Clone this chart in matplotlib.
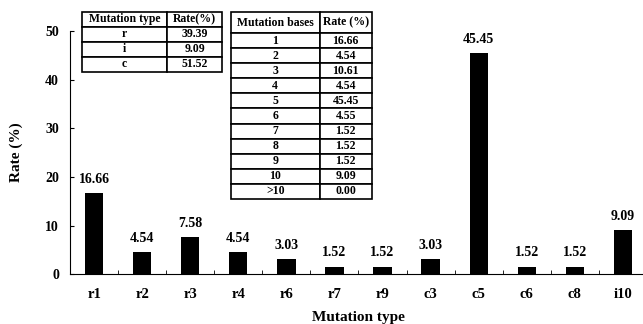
import matplotlib
matplotlib.use("Agg")
import matplotlib.pyplot as plt
import numpy as np

plt.rcParams["font.family"] = "Liberation Serif"
plt.rcParams["font.weight"] = "bold"

categories = ["r1", "r2", "r3", "r4", "r6", "r7", "r9", "c3", "c5", "c6", "c8", "i10"]
rates = [16.66, 4.54, 7.58, 4.54, 3.03, 1.52, 1.52, 3.03, 45.45, 1.52, 1.52, 9.09]

type_rows = [["r", "39.39"], ["i", "9.09"], ["c", "51.52"]]
type_header = ["Mutation type", "Rate(%)"]

bases_rows = [["1", "16.66"], ["2", "4.54"], ["3", "10.61"], ["4", "4.54"],
              ["5", "45.45"], ["6", "4.55"], ["7", "1.52"], ["8", "1.52"],
              ["9", "1.52"], ["10", "9.09"], [">10", "0.00"]]
bases_header = ["Mutation bases", "Rate (%)"]

fig = plt.figure(figsize=(6.43, 3.24), dpi=100)
ax = fig.add_axes([0.109, 0.154, 0.897, 0.75])

x = np.arange(len(categories))
ax.bar(x, rates, width=0.38, color="black")
for xi, v in zip(x, rates):
    ax.text(xi, v + 1.5, f"{v:.2f}", ha="center", va="bottom", fontsize=10, fontweight="bold")

ax.set_xlim(-0.5, len(categories) - 0.5)
ax.set_ylim(0, 50)
ax.set_yticks(range(0, 51, 10))
ax.set_xticks(x)
ax.set_xticklabels(categories)
ax.set_xticks(np.arange(-0.5, len(categories), 1), minor=True)
ax.tick_params(axis="x", which="major", length=0, pad=10, labelsize=10.5)
ax.tick_params(axis="x", which="minor", direction="in", length=3)
ax.tick_params(axis="y", direction="in", length=3, pad=8, labelsize=10)
for lab in ax.get_xticklabels() + ax.get_yticklabels():
    lab.set_fontweight("bold")
ax.spines["top"].set_visible(False)
ax.spines["right"].set_visible(False)
ax.set_ylabel("Rate (%)", fontsize=11, fontweight="bold", labelpad=16)
ax.set_xlabel("Mutation type", fontsize=11, fontweight="bold", labelpad=7)


def add_table(header, rows, bbox, col_w, header_scale):
    t = fig.add_axes([0, 0, 1, 1], facecolor="none")
    t.axis("off")
    tab = t.table(cellText=rows, colLabels=header, cellLoc="center",
                  colWidths=col_w, bbox=bbox)
    tab.auto_set_font_size(False)
    for (r, c), cell in tab.get_celld().items():
        cell.set_linewidth(1.2)
        cell.set_height(header_scale if r == 0 else 1.0)
        cell.get_text().set_fontsize(8.5)
        cell.get_text().set_fontweight("bold")
    return tab


add_table(type_header, type_rows, [0.1275, 0.778, 0.218, 0.185], [85, 55], 1.0)
add_table(bases_header, bases_rows, [0.359, 0.386, 0.219, 0.577], [89, 52], 1.4)

fig.savefig("out.png", dpi=100)
